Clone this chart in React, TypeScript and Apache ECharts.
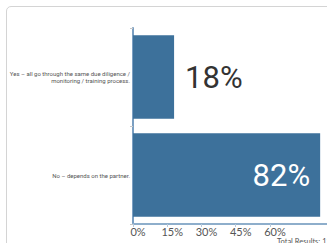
import React, { useEffect, useRef } from "react";
import * as echarts from "echarts";

const categories = [
  "Yes – all go through the same due diligence /\nmonitoring / training process.",
  "No – depends on the partner.",
];
const values = [18, 82];
const tickValues = [0, 15, 30, 45, 60];
const totalText = "Total Results: 11";

export default function App() {
  const ref = useRef<HTMLDivElement>(null);
  useEffect(() => {
    if (!ref.current) return;
    const chart = echarts.init(ref.current, null, { renderer: "svg" });
    chart.setOption({
      animation: false,
      grid: {
        left: 133,
        top: 28,
        width: 194,
        bottom: 19,
        containLabel: false,
        outerBoundsMode: "none",
      },
      xAxis: {
        type: "value",
        min: 0,
        max: 85,
        splitLine: { show: false },
        axisLine: { show: true, lineStyle: { color: "#8eaecb", width: 2 } },
        axisTick: {
          show: true,
          customValues: tickValues,
          length: 3,
          lineStyle: { color: "#b8c9da" },
        },
        axisLabel: {
          customValues: tickValues,
          formatter: (v: number) => v + "%",
          color: "#555",
          fontSize: 11,
          fontFamily: "Lato",
          margin: 2,
          padding: [0, 0, 0, 10],
        },
      },
      yAxis: {
        type: "category",
        data: categories,
        inverse: true,
        axisLine: { show: true, lineStyle: { color: "#7b9fc2", width: 2 } },
        axisTick: { show: true, length: 3, lineStyle: { color: "#c8c8c8" } },
        axisLabel: {
          color: "#555",
          fontSize: 6,
          lineHeight: 7.5,
          fontFamily: "Roboto",
          margin: 3,
          align: "right",
        },
      },
      series: [
        {
          type: "bar",
          data: values.map((v, i) => ({
            value: v,
            label:
              i === 0
                ? { position: "right", distance: 11, color: "#333" }
                : { position: "insideRight", distance: 10, color: "#fff" },
          })),
          barCategoryGap: "15%",
          itemStyle: { color: "#3d719b" },
          label: {
            show: true,
            formatter: "{c}%",
            fontSize: 31,
            fontFamily: "Roboto",
          },
        },
      ],
      graphic: [
        {
          type: "text",
          left: 277,
          top: 237,
          style: {
            text: totalText,
            fontSize: 7.5,
            fill: "#555",
            fontFamily: "Lato",
          },
        },
      ],
    });
    return () => chart.dispose();
  }, []);
  return (
    <div style={{ position: "fixed", left: 0, top: 0, width: 327, height: 243, overflow: "hidden", background: "#fff" }}>
      <div
        style={{
          position: "absolute",
          left: 6,
          top: 6,
          width: 340,
          height: 270,
          border: "1px solid #d4d4d4",
          borderRadius: 5,
          boxSizing: "border-box",
        }}
      />
      <div ref={ref} style={{ position: "absolute", left: 0, top: 0, width: 327, height: 243 }} />
    </div>
  );
}
